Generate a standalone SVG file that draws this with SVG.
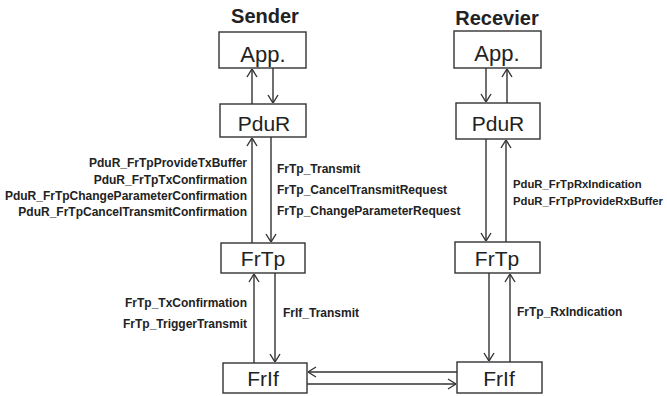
<svg xmlns="http://www.w3.org/2000/svg" width="667" height="396" viewBox="0 0 667 396">
<style>
.box{fill:#fff;stroke:#333;stroke-width:1.4}
.bt{font-family:"Liberation Sans",Arial,sans-serif;font-size:21px;fill:#222;text-anchor:middle}
.ttl{font-family:"Liberation Sans",Arial,sans-serif;font-size:20px;font-weight:bold;fill:#222;text-anchor:middle}
.lbl{font-family:"Liberation Sans",Arial,sans-serif;font-size:12px;font-weight:bold;fill:#222}
.sm{font-size:11.3px}
.r{text-anchor:end}
.ln{fill:none;stroke:#333;stroke-width:1.4;marker-end:url(#ah)}
</style>
<defs>
<marker id="ah" viewBox="0 0 10 12" refX="10" refY="6" markerWidth="10" markerHeight="12" markerUnits="userSpaceOnUse" orient="auto">
<path d="M2,1 L10,6 L2,11" fill="none" stroke="#333" stroke-width="1.4"/>
</marker>
</defs>
<rect width="667" height="396" fill="#fff"/>
<text class="ttl" x="265" y="23">Sender</text>
<text class="ttl" x="497" y="25">Recevier</text>
<g id="s-app"><rect class="box" x="219" y="32" width="87" height="36"/><text class="bt" x="263" y="62" style="font-size:22px">App.</text></g>
<g id="s-pdur"><rect class="box" x="220" y="104" width="86" height="33"/><text class="bt" x="264" y="131">PduR</text></g>
<g id="s-frtp"><rect class="box" x="221" y="243" width="84" height="30"/><text class="bt" x="263" y="266">FrTp</text></g>
<g id="s-frif"><rect class="box" x="223" y="363" width="84" height="30"/><text class="bt" x="263" y="386">FrIf</text></g>
<g id="r-app"><rect class="box" x="454" y="31" width="87" height="37"/><text class="bt" x="497" y="61" style="font-size:22px">App.</text></g>
<g id="r-pdur"><rect class="box" x="456" y="103" width="84" height="36"/><text class="bt" x="498" y="131">PduR</text></g>
<g id="r-frtp"><rect class="box" x="455" y="242" width="85" height="31"/><text class="bt" x="497" y="266">FrTp</text></g>
<g id="r-frif"><rect class="box" x="457" y="362" width="85" height="31"/><text class="bt" x="499" y="386">FrIf</text></g>
<g id="connectors">
<line class="ln" x1="252" y1="104" x2="252" y2="69"/>
<line class="ln" x1="273" y1="68" x2="273" y2="103"/>
<line class="ln" x1="252" y1="243" x2="252" y2="138"/>
<line class="ln" x1="271" y1="137" x2="271" y2="242"/>
<line class="ln" x1="254" y1="363" x2="254" y2="274"/>
<line class="ln" x1="275" y1="273" x2="275" y2="362"/>
<line class="ln" x1="457" y1="372" x2="308" y2="372"/>
<line class="ln" x1="307" y1="384" x2="456" y2="384"/>
<line class="ln" x1="486" y1="68" x2="486" y2="102"/>
<line class="ln" x1="507" y1="103" x2="507" y2="69"/>
<line class="ln" x1="486" y1="139" x2="486" y2="241"/>
<line class="ln" x1="506" y1="242" x2="506" y2="140"/>
<line class="ln" x1="489" y1="273" x2="489" y2="361"/>
<line class="ln" x1="510" y1="362" x2="510" y2="274"/>
</g>
<g id="labels">
<text class="lbl r" x="247" y="167">PduR_FrTpProvideTxBuffer</text>
<text class="lbl r" x="247" y="184">PduR_FrTpTxConfirmation</text>
<text class="lbl r" x="247" y="200">PduR_FrTpChangeParameterConfirmation</text>
<text class="lbl r" x="247" y="216">PduR_FrTpCancelTransmitConfirmation</text>
<text class="lbl" x="277" y="173">FrTp_Transmit</text>
<text class="lbl" x="277" y="194">FrTp_CancelTransmitRequest</text>
<text class="lbl" x="277" y="215">FrTp_ChangeParameterRequest</text>
<text class="lbl sm" x="513" y="188">PduR_FrTpRxIndication</text>
<text class="lbl sm" x="513" y="205">PduR_FrTpProvideRxBuffer</text>
<text class="lbl r" x="247" y="307">FrTp_TxConfirmation</text>
<text class="lbl r" x="247" y="328">FrTp_TriggerTransmit</text>
<text class="lbl" x="283" y="317">FrIf_Transmit</text>
<text class="lbl" x="517" y="316">FrTp_RxIndication</text>
</g>
</svg>
